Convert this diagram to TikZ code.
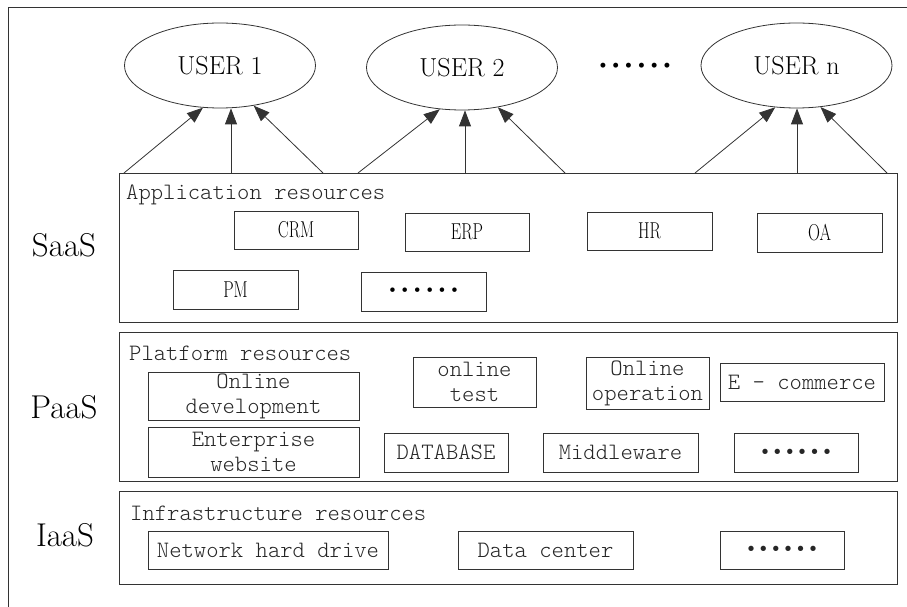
\documentclass[tikz,border=0pt]{standalone}
\usepackage{fontspec}
\newfontfamily\lighttt{Latin Modern Mono Light}
\usetikzlibrary{arrows.meta,shapes.geometric}
\newcommand\mybul[2]{\makebox[#1]{\fontsize{#2}{#2}\selectfont\textbullet}}
\newcommand\mysixbul[2]{\mybul{#1}{#2}\mybul{#1}{#2}\mybul{#1}{#2}\mybul{#1}{#2}\mybul{#1}{#2}\mybul{#1}{#2}}
\tikzset{
  ln/.style={draw=black!80, line width=0.8pt},
  layerbox/.style={ln, inner sep=0pt},
  ibox/.style={ln, inner sep=0pt, align=center, text=black!85, font=\lighttt\fontsize{23.5}{25}\selectfont},
  sbox/.style={ln, inner sep=0pt, font=\fontsize{23}{25}\selectfont},
  userell/.style={ellipse, ln, inner sep=0pt, minimum width=191pt, minimum height=85pt, font=\fontsize{26}{28}\selectfont},
  laylab/.style={inner sep=0pt, font=\fontsize{33}{35}\selectfont},
  ttl/.style={anchor=west, inner sep=0pt, text=black!85, font=\lighttt\fontsize{23.5}{25}\selectfont},
  arr/.style={ln, -{Triangle[length=16pt,width=12pt]}}
}
\begin{document}
\begin{tikzpicture}[x=1pt,y=-1pt]
\useasboundingbox (0,0) rectangle (907,607);
% outer frame
\coordinate (fb) at (8,607);
\coordinate (ftl) at (8,7);
\coordinate (ftr) at (907,7);
\draw[ln] (fb) -- (ftl) -- (ftr);

% users
\node[userell] (u1) at (220,65.5) {USER 1};
\node[userell] (u2) at (462,67.5) {USER 2};
\node[userell] (un) at (796.5,65.5) {USER n};
\node[inner sep=0pt] (udots) at (635,67) {\mysixbul{12.8pt}{22}};

% layer boxes
\node[layerbox, minimum width=778pt, minimum height=149pt] (saas) at (508,247.5) {};
\node[layerbox, minimum width=778pt, minimum height=149pt] (paas) at (508,406.5) {};
\node[layerbox, minimum width=778pt, minimum height=93pt] (iaas) at (508,537.5) {};

% layer labels
\node[laylab] (lsaas) at (64,245) {SaaS};
\node[laylab] (lpaas) at (64,407) {PaaS};
\node[laylab] (liaas) at (65,535) {IaaS};

% titles
\node[ttl] (tsaas) at (126,195) {Application resources};
\node[ttl] (tpaas) at (129,353) {Platform resources};
\node[ttl] (tiaas) at (130,513) {Infrastructure resources};

% SaaS items
\node[sbox, minimum width=124pt, minimum height=38pt] (crm) at (296,230) {\scalebox{0.72}[1]{CRM}};
\node[sbox, minimum width=124pt, minimum height=38pt] (erp) at (467,232) {\scalebox{0.72}[1]{ERP}};
\node[sbox, minimum width=125pt, minimum height=38pt] (hr) at (649.5,231) {\scalebox{0.72}[1]{HR}};
\node[sbox, minimum width=125pt, minimum height=39pt] (oa) at (819.5,232.5) {\scalebox{0.72}[1]{OA}};
\node[sbox, minimum width=125pt, minimum height=39pt] (pm) at (235.5,289.5) {\scalebox{0.72}[1]{PM}};
\node[sbox, minimum width=125pt, minimum height=39pt] (sdots) at (423.5,291.5) {\mysixbul{12.4pt}{20}};

% PaaS items
\node[ibox, minimum width=211pt, minimum height=48pt] (odev) at (253.5,396) {Online\\development};
\node[ibox, minimum width=211pt, minimum height=50pt] (ent) at (253.5,452) {Enterprise\\website};
\node[ibox, minimum width=123pt, minimum height=50pt] (otest) at (474.5,382) {online\\test};
\node[ibox, minimum width=123pt, minimum height=52pt] (oop) at (647.5,383) {Online\\operation};
\node[ibox, minimum width=164pt, minimum height=38pt] (ecom) at (802,382) {E - commerce};
\node[ibox, minimum width=124pt, minimum height=39pt] (db) at (446,452.5) {DATABASE};
\node[ibox, minimum width=155pt, minimum height=39pt] (mid) at (620.5,452.5) {Middleware};
\node[ibox, minimum width=124pt, minimum height=39pt] (pdots) at (796,452.5) {\mysixbul{12.4pt}{20}};

% IaaS items
\node[ibox, minimum width=240pt, minimum height=38pt] (nhd) at (268,550) {Network hard drive};
\node[ibox, minimum width=175pt, minimum height=38pt] (dc) at (545.5,550) {Data center};
\node[ibox, minimum width=124pt, minimum height=38pt] (idots) at (782,550) {\mysixbul{12.4pt}{20}};

% arrow start points
\coordinate (a1) at (124,173);
\coordinate (a2) at (231,173);
\coordinate (a3) at (323,173);
\coordinate (b1) at (358,173);
\coordinate (b2) at (465,173);
\coordinate (b3) at (565,173);
\coordinate (c1) at (695,173);
\coordinate (c2) at (797,173);
\coordinate (c3) at (887,173);

\draw[arr] (a1) -- (u1.248);
\draw[arr] (a2) -- (a2 |- u1.south);
\draw[arr] (a3) -- (u1.310);
\draw[arr] (b1) -- (u2.242);
\draw[arr] (b2) -- (b2 |- u2.south);
\draw[arr] (b3) -- (u2.312);
\draw[arr] (c1) -- (un.243);
\draw[arr] (c2) -- (c2 |- un.south);
\draw[arr] (c3) -- (un.300);
\end{tikzpicture}
\end{document}
